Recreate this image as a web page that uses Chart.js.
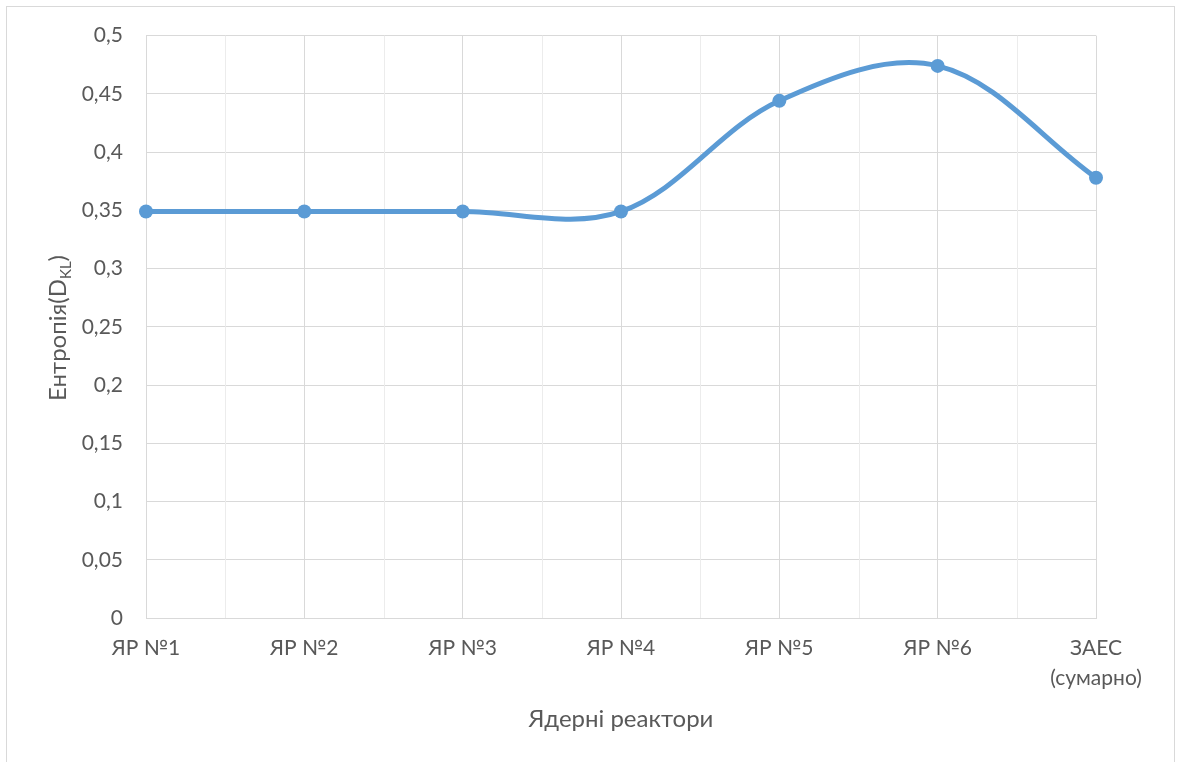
<!DOCTYPE html>
<html>
<head>
<meta charset="utf-8">
<script src="https://cdn.jsdelivr.net/npm/chart.js@4/dist/chart.umd.min.js"></script>
<style>
  html, body { margin: 0; padding: 0; background: #fff; }
  #wrap { width: 1178px; height: 762px; position: relative; }
</style>
</head>
<body>
<div id="wrap"><canvas id="c" width="1178" height="762"></canvas></div>
<script>
// Reactor categories and entropy values
const categories = ['ЯР №1', 'ЯР №2', 'ЯР №3', 'ЯР №4', 'ЯР №5', 'ЯР №6', ['ЗАЕС', '(сумарно)']];
const entropy = [0.349, 0.349, 0.349, 0.349, 0.444, 0.474, 0.378];
const yMin = 0, yMax = 0.5, yStep = 0.05;
const xTitle = 'Ядерні реактори';
const yTitleMain = 'Ентропія(D';
const yTitleSub = 'KL';
const yTitleEnd = ')';

const FONT = 'Lato, "Open Sans", sans-serif';
const TEXT = '#595959';

// Outer frame, minor vertical gridlines, and axis titles
const decor = {
  id: 'decor',
  beforeDraw(chart) {
    const ctx = chart.ctx;
    ctx.save();
    ctx.fillStyle = '#fff';
    ctx.fillRect(0, 0, chart.width, chart.height);
    ctx.strokeStyle = '#d9d9d9';
    ctx.lineWidth = 1;
    ctx.strokeRect(6.5, 6.5, 1168, 770);
    ctx.restore();
  },
  beforeDatasetsDraw(chart) {
    const ctx = chart.ctx;
    const x = chart.scales.x, area = chart.chartArea;
    ctx.save();
    ctx.strokeStyle = '#ececec';
    ctx.lineWidth = 1;
    for (let i = 0; i < categories.length - 1; i++) {
      const px = Math.round((x.getPixelForValue(i) + x.getPixelForValue(i + 1)) / 2) + 0.5;
      ctx.beginPath();
      ctx.moveTo(px, area.top);
      ctx.lineTo(px, area.bottom);
      ctx.stroke();
    }
    ctx.restore();
  },
  afterDraw(chart) {
    const ctx = chart.ctx, area = chart.chartArea;
    ctx.save();
    ctx.fillStyle = TEXT;
    // x-axis title
    ctx.font = '24px ' + FONT;
    ctx.textAlign = 'center';
    ctx.textBaseline = 'middle';
    ctx.fillText(xTitle, (area.left + area.right) / 2, 719);
    // y-axis title with subscript
    ctx.translate(66, 328);
    ctx.rotate(-Math.PI / 2);
    ctx.textAlign = 'left';
    ctx.textBaseline = 'alphabetic';
    ctx.font = '24px ' + FONT;
    const w1 = ctx.measureText(yTitleMain).width;
    ctx.font = '15px ' + FONT;
    const w2 = ctx.measureText(yTitleSub).width;
    ctx.font = '24px ' + FONT;
    const w3 = ctx.measureText(yTitleEnd).width;
    let sx = -(w1 + w2 + w3) / 2;
    ctx.fillText(yTitleMain, sx, 0);
    sx += w1;
    ctx.font = '15px ' + FONT;
    ctx.fillText(yTitleSub, sx, 5);
    sx += w2;
    ctx.font = '24px ' + FONT;
    ctx.fillText(yTitleEnd, sx, 0);
    ctx.restore();
  }
};

new Chart(document.getElementById('c'), {
  type: 'line',
  data: {
    labels: categories,
    datasets: [{
      data: entropy,
      borderColor: '#5b9bd5',
      backgroundColor: '#5b9bd5',
      borderWidth: 5,
      pointRadius: 7,
      pointHoverRadius: 7,
      pointBorderWidth: 0,
      tension: 0.35,
      fill: false,
      clip: false
    }]
  },
  options: {
    responsive: false,
    animation: false,
    devicePixelRatio: 1,
    layout: { padding: { left: 0, right: 82, top: 35, bottom: 0 } },
    plugins: { legend: { display: false }, tooltip: { enabled: false } },
    scales: {
      x: {
        type: 'category',
        offset: false,
        afterFit(s) { s.height = 762 - 35 - 583; },
        grid: { color: '#d9d9d9', lineWidth: 1, drawTicks: false },
        border: { color: '#d9d9d9' },
        ticks: {
          color: TEXT,
          font: { family: FONT, size: 21, lineHeight: 1.4 },
          padding: 16,
          maxRotation: 0,
          autoSkip: false
        }
      },
      y: {
        min: yMin,
        max: yMax,
        afterFit(s) { s.width = 146; },
        grid: { color: '#d9d9d9', lineWidth: 1, drawTicks: false },
        border: { display: false },
        ticks: {
          stepSize: yStep,
          color: TEXT,
          font: { family: FONT, size: 21 },
          padding: 23,
          callback: v => String(+v.toFixed(2)).replace('.', ',')
        }
      }
    }
  },
  plugins: [decor]
});
</script>
</body>
</html>
